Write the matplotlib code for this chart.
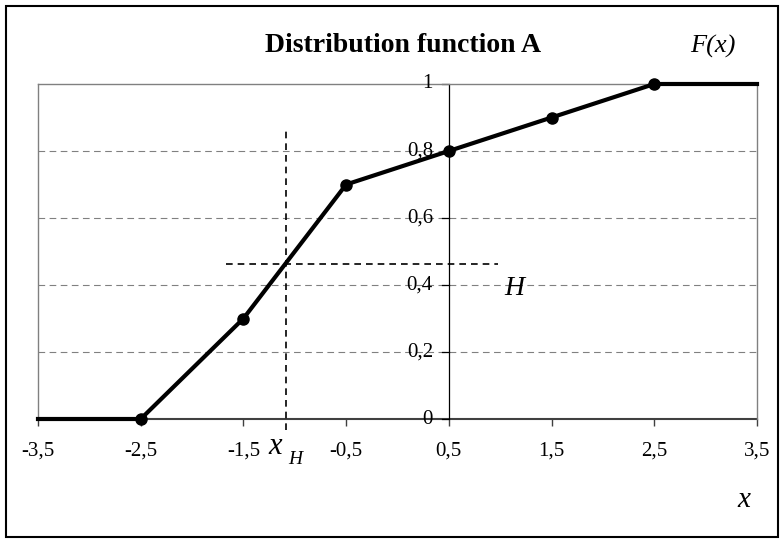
import numpy as np
import matplotlib
matplotlib.use("Agg")
import matplotlib.pyplot as plt
from matplotlib.patches import Rectangle

# data
x_vals = [-3.5, -2.5, -1.5, -0.5, 0.5, 1.5, 2.5, 3.5]
F_vals = [0, 0, 0.3, 0.7, 0.8, 0.9, 1, 1]
marker_x = x_vals[1:-1]
marker_F = F_vals[1:-1]
x_ticks = [-3.5, -2.5, -1.5, -0.5, 0.5, 1.5, 2.5, 3.5]
y_ticks = [0, 0.2, 0.4, 0.6, 0.8, 1]
H = 0.463
x_H = -1.09

plt.rcParams['font.family'] = ['Liberation Serif']

fig = plt.figure(figsize=(7.83, 5.39), dpi=100)
fig.patches.append(Rectangle((6/783, 2/539), 772/783, 531/539, transform=fig.transFigure,
                             fill=False, edgecolor='black', linewidth=1.5))

ax = fig.add_axes([38/783, 120/539, 719/783, 335/539])
ax.set_xlim(-3.5, 3.5)
ax.set_ylim(0, 1)
for s in ['left', 'right', 'top']:
    ax.spines[s].set_color('#808080')
    ax.spines[s].set_linewidth(1)
ax.spines['bottom'].set_color('#404040')
ax.spines['bottom'].set_linewidth(1.5)
ax.spines['bottom'].set_zorder(1)

# gridlines
for yv in y_ticks[1:-1]:
    ax.axhline(yv, color='#808080', linestyle=(0, (6, 4)), linewidth=0.8, zorder=1)

# y axis drawn at x = 0.5
ax.axvline(0.5, color='black', linewidth=0.9, zorder=2)
for yv in y_ticks:
    ax.plot([0.43, 0.5], [yv, yv], color='black', linewidth=0.9, clip_on=False, zorder=2)
    lbl = ('%g' % yv).replace('.', ',')
    ax.text(0.345, yv, lbl, ha='right', va='center', fontsize=15, zorder=3)

ax.set_xticks(x_ticks)
ax.set_xticklabels([('%g' % v).replace('.', ',') for v in x_ticks], fontsize=15)
ax.tick_params(axis='x', direction='out', length=5, width=1, color='#404040', pad=11)
ax.set_yticks([])

# helper lines for H and x_H
ax.plot([x_H, x_H], [-0.033, 0.86], color='black', linestyle=(0, (4, 3)), linewidth=1.2,
        clip_on=False, zorder=4)
ax.plot([-1.67, 0.98], [H, H], color='black', linestyle=(0, (4, 3)), linewidth=1.2, zorder=4)

# distribution function
ax.plot(x_vals, F_vals, color='black', linewidth=3, zorder=5, clip_on=False)
ax.plot(marker_x, marker_F, 'o', color='black', markersize=8, zorder=6, clip_on=False)

ax.text(1.14, 0.39, 'H', fontsize=20, style='italic', ha='center', va='center')
fig.text(403/783, 1 - 45/539, 'Distribution function A', fontsize=20, fontweight='bold',
         ha='center', va='center')
fig.text(713/783, 1 - 46/539, 'F(x)', fontsize=19, style='italic', ha='center', va='center')
fig.text(744/783, 1 - 500/539, 'x', fontsize=21, style='italic', ha='center', va='center')
fig.text(275/783, 1 - 447/539, 'x', fontsize=22, style='italic', ha='center', va='center')
fig.text(295/783, 1 - 460/539, 'H', fontsize=14, style='italic', ha='center', va='center')

fig.savefig('out.png', dpi=100)
